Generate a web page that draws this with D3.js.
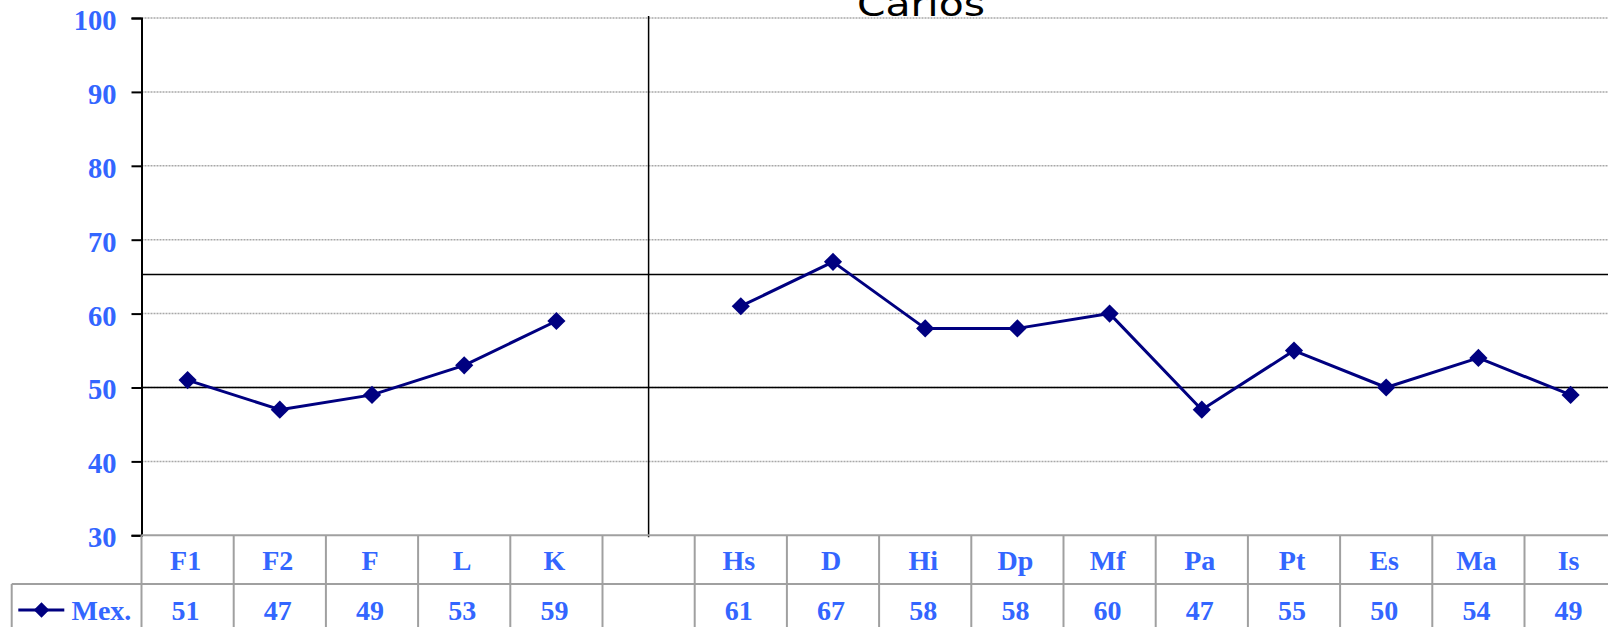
<!DOCTYPE html>
<html>
<head>
<meta charset="utf-8">
<script src="https://cdn.jsdelivr.net/npm/d3@7"></script>
<style>
  html, body { margin: 0; padding: 0; background: #fff; }
  svg { display: block; }
</style>
</head>
<body>
<svg id="chart" width="1608" height="627"></svg>
<script>
// ---- data ----
const title = "Carlos";
const categories = ["F1", "F2", "F", "L", "K", "", "Hs", "D", "Hi", "Dp", "Mf", "Pa", "Pt", "Es", "Ma", "Is"];
const seriesName = "Mex.";
const values = [51, 47, 49, 53, 59, null, 61, 67, 58, 58, 60, 47, 55, 50, 54, 49];
const yTicks = [30, 40, 50, 60, 70, 80, 90, 100];
const refLines = [50, 65.3];
const dividerCategory = "";

(function () {
// ---- layout ----
const svg = d3.select("#chart");
const plotLeft = 141.5, colW = 92.2;
const plotTop = 18, plotBottom = 535.3;
const keys = categories.map((c, i) => c === "" ? "__blank" + i : c);
const x = d3.scaleBand().domain(keys).range([plotLeft, plotLeft + keys.length * colW]).padding(0);
const y = d3.scaleLinear().domain([30, 100]).range([plotBottom, plotTop]);
const blue = "#3366ff";
const navy = "#000080";
const font = "'Liberation Serif', 'Times New Roman', serif";

// gridlines
svg.append("g").selectAll("line").data(yTicks.filter(t => t > 30)).join("line")
  .attr("x1", plotLeft).attr("x2", 1608)
  .attr("y1", d => y(d)).attr("y2", d => y(d))
  .attr("stroke", "#a8a8a8").attr("stroke-width", 1.5).attr("stroke-dasharray", "2,1");

// reference lines
svg.append("g").selectAll("line").data(refLines).join("line")
  .attr("x1", plotLeft).attr("x2", 1608)
  .attr("y1", d => y(d)).attr("y2", d => y(d))
  .attr("stroke", "#000").attr("stroke-width", 1.5);

// divider
const divKey = keys[categories.indexOf(dividerCategory)];
svg.append("line")
  .attr("x1", x(divKey) + x.bandwidth() / 2).attr("x2", x(divKey) + x.bandwidth() / 2)
  .attr("y1", y(100) - 2).attr("y2", plotBottom + 2)
  .attr("stroke", "#000").attr("stroke-width", 1.5);

// y axis
const yAxis = d3.axisLeft(y).tickValues(yTicks).tickSize(10).tickPadding(15).tickFormat(d3.format("d"));
const gy = svg.append("g").attr("transform", `translate(${plotLeft},0)`).call(yAxis);
gy.select(".domain").attr("stroke", "#000").attr("stroke-width", 2);
gy.selectAll(".tick line").attr("stroke", "#000").attr("stroke-width", 2);
gy.selectAll(".tick text")
  .attr("fill", blue).attr("font-family", font).attr("font-weight", "bold")
  .attr("font-size", 28.5).attr("dy", "0.4em");

// table
const rowTop = plotBottom, rowMid = 584, rowBot = 640;
const tbl = svg.append("g");
const tableStroke = "#a0a0a0";
tbl.append("line").attr("x1", plotLeft).attr("x2", 1608).attr("y1", rowTop).attr("y2", rowTop)
  .attr("stroke", tableStroke).attr("stroke-width", 2);
tbl.append("line").attr("x1", 11.7).attr("x2", 1608).attr("y1", rowMid).attr("y2", rowMid)
  .attr("stroke", tableStroke).attr("stroke-width", 2);
tbl.selectAll("line.v").data(keys.concat(["__end"])).join("line").attr("class", "v")
  .attr("x1", d => d === "__end" ? x.range()[1] : x(d))
  .attr("x2", d => d === "__end" ? x.range()[1] : x(d))
  .attr("y1", rowTop).attr("y2", rowBot)
  .attr("stroke", tableStroke).attr("stroke-width", 2);
tbl.append("line").attr("x1", 11.7).attr("x2", 11.7).attr("y1", rowMid).attr("y2", rowBot)
  .attr("stroke", tableStroke).attr("stroke-width", 2);

// header labels
tbl.selectAll("text.h").data(categories.map((c, i) => ({ c, k: keys[i] }))).join("text").attr("class", "h")
  .attr("x", d => x(d.k) + x.bandwidth() / 2 - 2).attr("y", 569.5)
  .attr("text-anchor", "middle").attr("fill", blue).attr("font-family", font)
  .attr("font-weight", "bold").attr("font-size", 28)
  .text(d => d.c);
// value labels
tbl.selectAll("text.val").data(values.map((v, i) => ({ v, k: keys[i] }))).join("text").attr("class", "val")
  .attr("x", d => x(d.k) + x.bandwidth() / 2 - 2).attr("y", 619.5)
  .attr("text-anchor", "middle").attr("fill", blue).attr("font-family", font)
  .attr("font-weight", "bold").attr("font-size", 28)
  .text(d => d.v == null ? "" : d.v);

// legend
tbl.append("line").attr("x1", 18.3).attr("x2", 64.3).attr("y1", 610).attr("y2", 610)
  .attr("stroke", navy).attr("stroke-width", 2.8);
tbl.append("path").attr("d", d3.symbol().type(d3.symbolSquare).size(120)())
  .attr("transform", "translate(41.5,610) rotate(45)").attr("fill", navy);
tbl.append("text").attr("x", 71.5).attr("y", 619.5).attr("fill", blue)
  .attr("font-family", font).attr("font-weight", "bold").attr("font-size", 28)
  .text(seriesName);

// series line
const pts = values.map((v, i) => ({ v, k: keys[i] }));
const line = d3.line().defined(d => d.v != null)
  .x(d => x(d.k) + x.bandwidth() / 2).y(d => y(d.v));
svg.append("path").datum(pts).attr("d", line)
  .attr("fill", "none").attr("stroke", navy).attr("stroke-width", 3).attr("stroke-linejoin", "round");
const diamond = d3.symbol().type(d3.symbolSquare).size(165);
svg.append("g").selectAll("path").data(pts.filter(d => d.v != null)).join("path")
  .attr("d", diamond)
  .attr("transform", d => `translate(${x(d.k) + x.bandwidth() / 2},${y(d.v)}) rotate(45)`)
  .attr("fill", navy);

// title
svg.append("text").attr("x", 921).attr("y", 15.5).attr("text-anchor", "middle")
  .attr("font-family", "'Comic Sans MS', 'DejaVu Sans', sans-serif").attr("font-size", 34)
  .attr("textLength", 128).attr("lengthAdjust", "spacingAndGlyphs")
  .attr("fill", "#000").text(title);
})();
</script>
</body>
</html>
